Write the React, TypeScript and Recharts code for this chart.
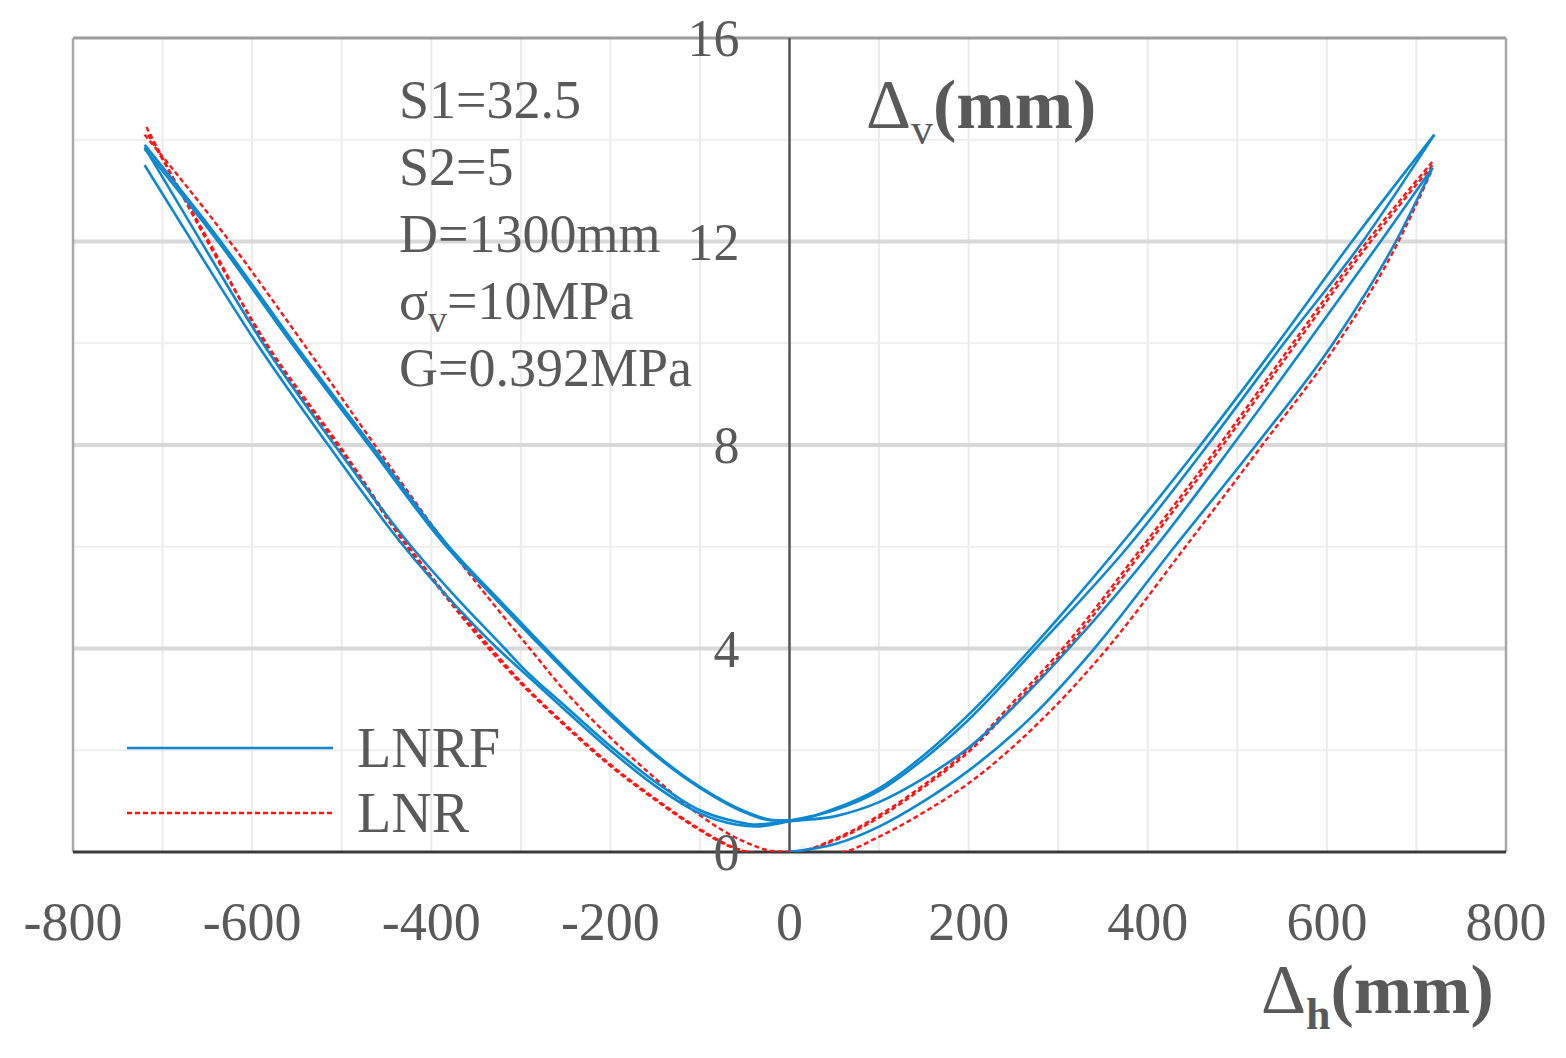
import React from 'react';
import { Line, LineChart, ReferenceDot, ReferenceLine, XAxis, YAxis } from 'recharts';

type Pt = { x: number; y: number };
const pts = (rows: number[][]): Pt[] => rows.map(([x, y]) => ({ x, y }));

const FONT = '"Liberation Serif", "Times New Roman", serif';
const TEXT = '#595959';
const BLUE = '#0c88d0';
const RED = '#ff1414';

// axes
const xTicks = [-800, -600, -400, -200, 0, 200, 400, 600, 800];
const yTicks = [0, 4, 8, 12, 16];
const xGrid = [-700, -600, -500, -400, -300, -200, -100, 100, 200, 300, 400, 500, 600, 700];
const yMinor = [2, 6, 10, 14];
const yMajor = [4, 8, 12];

// LNRF (blue): each branch runs tip to tip
const lnrfFirst = pts([
  [0, 0], [50, 0.15], [100, 0.5], [150, 1.0], [200, 1.6], [270, 2.65], [338, 3.95],
  [430, 6], [521, 8], [607, 10], [677, 12], [718, 13.45],
]);
const lnrfCycle1 = pts([
  [-720, 13.5], [-660, 11.8], [-595, 10], [-515, 8], [-428, 5.95], [-380, 4.98],
  [-326, 4], [-300, 3.58], [-250, 2.78], [-200, 2.0], [-150, 1.3], [-100, 0.76],
  [-60, 0.54], [-37, 0.5], [0, 0.6], [50, 0.7], [100, 0.98], [150, 1.45], [200, 2.05],
  [250, 2.85], [312, 4], [409, 6], [495, 8], [578, 10], [660, 12], [718, 13.45],
]);
const lnrfCycle2 = pts([
  [-720, 13.9], [-635, 12], [-553, 10], [-467, 8], [-380, 6], [-325, 4.97], [-275, 4.05],
  [-250, 3.6], [-200, 2.73], [-150, 1.93], [-100, 1.28], [-50, 0.8], [-19, 0.63],
  [0, 0.62], [50, 0.85], [100, 1.25], [150, 1.9], [200, 2.7], [270, 4], [320, 5.0],
  [368, 6], [459, 8], [545, 10], [628, 12], [720, 14.1],
]);
const lnrfCycle3 = pts([
  [-720, 13.85], [-652, 11.85], [-588, 10], [-508, 8], [-422, 6], [-372, 5], [-318, 4],
  [-300, 3.66], [-250, 2.86], [-200, 2.08], [-150, 1.38], [-100, 0.82], [-60, 0.6],
  [-37, 0.54], [0, 0.62], [50, 0.82], [100, 1.2], [150, 1.83], [200, 2.6], [275, 4],
  [378, 6], [467, 8], [552, 10], [640, 12], [720, 14.1],
]);
const lnrfLast = pts([
  [-720, 13.82], [-638, 12], [-556, 10], [-470, 8], [-383, 6], [-328, 4.97], [-278, 4.05],
  [-250, 3.55], [-200, 2.68], [-150, 1.9], [-100, 1.26], [-50, 0.78], [-19, 0.62],
  [0, 0.62],
]);

// LNR (red dashed)
const lnrCycle1 = pts([
  [-718, 14.25], [-650, 12], [-584, 10], [-503, 8], [-425, 6], [-390, 5.2], [-333, 4],
  [-300, 3.35], [-250, 2.5], [-200, 1.72], [-150, 1.05], [-100, 0.45], [-56, 0.05],
  [-30, -0.03], [0, -0.02], [50, 0.25], [100, 0.72], [150, 1.32], [200, 2.02],
  [250, 2.95], [305, 4], [394, 6], [480, 8], [562, 10], [645, 12], [718, 13.57],
]);
const lnrCycle2 = pts([
  [-720, 14.1], [-625, 12], [-543, 10], [-463, 8], [-381, 6], [-335, 4.97], [-290, 4.0],
  [-250, 3.15], [-200, 2.25], [-150, 1.45], [-100, 0.72], [-50, 0.2], [-19, 0.02],
  [0, 0], [30, -0.05], [60, 0], [100, 0.3], [150, 0.78], [200, 1.35], [270, 2.4],
  [350, 3.9], [440, 5.95], [528, 8], [612, 10], [680, 12], [716, 13.35],
]);
const lnrCycle3 = pts([
  [-716, 14.1], [-648, 12], [-586, 10], [-505, 8], [-427, 6], [-392, 5.2], [-336, 4],
  [-302, 3.35], [-252, 2.5], [-202, 1.72], [-152, 1.05], [-102, 0.45], [-58, 0.05],
  [-30, -0.04], [0, -0.02], [52, 0.24], [102, 0.7], [152, 1.3], [202, 2.0],
  [254, 2.95], [309, 4], [398, 6], [484, 8], [566, 10], [649, 12], [718, 13.5],
]);

const blueSeries = [lnrfFirst, lnrfCycle1, lnrfCycle2, lnrfCycle3, lnrfLast];
const redSeries = [lnrCycle1, lnrCycle2, lnrCycle3];

const paramLines: Array<[string, string, string]> = [
  ['S1=32.5', '', ''],
  ['S2=5', '', ''],
  ['D=1300mm', '', ''],
  ['σ', 'v', '=10MPa'],
  ['G=0.392MPa', '', ''],
];

const XTick = (props: any) => {
  const { x, y, payload } = props;
  return (
    <text x={x} y={y + 88} textAnchor="middle" fontSize={54} fontFamily={FONT} fill={TEXT}>
      {payload.value}
    </text>
  );
};

const yLabel = (value: number) => (props: any) => {
  const vb = props.viewBox || {};
  const cx = (vb.x ?? 0) + (vb.width ?? 0) / 2;
  const cy = (vb.y ?? 0) + (vb.height ?? 0) / 2;
  return (
    <text x={cx - 50} y={cy + 18} textAnchor="end" fontSize={52} fontFamily={FONT} fill={TEXT}>
      {value}
    </text>
  );
};

const W = 1558;
const H = 1050;

const App: React.FC = () => (
  <div style={{ position: 'relative', width: W, height: H, background: '#fff' }}>
    <LineChart width={W} height={H} margin={{ top: 30, right: 60, bottom: 106, left: 65 }}>
      <XAxis
        type="number"
        dataKey="x"
        domain={[-800, 800]}
        ticks={xTicks}
        interval={0}
        axisLine={false}
        tickLine={false}
        tickSize={0}
        tickMargin={0}
        height={100}
        tick={<XTick />}
        allowDataOverflow
      />
      <YAxis type="number" domain={[0, 16]} ticks={yTicks} hide allowDataOverflow />
      {xGrid.map((v) => (
        <ReferenceLine key={`gx-${v}`} x={v} stroke="#ebebeb" strokeWidth={2} />
      ))}
      {yMinor.map((v) => (
        <ReferenceLine key={`gy-${v}`} y={v} stroke="#eeeeee" strokeWidth={2} />
      ))}
      {yMajor.map((v) => (
        <ReferenceLine key={`gY-${v}`} y={v} stroke="#d8d8d8" strokeWidth={4} />
      ))}
      <ReferenceLine y={16} stroke="#9c9c9c" strokeWidth={3} />
      <ReferenceLine x={-800} stroke="#a8a8a8" strokeWidth={2.5} />
      <ReferenceLine x={800} stroke="#a8a8a8" strokeWidth={2.5} />
      <ReferenceLine y={0} stroke="#3a3a3a" strokeWidth={3} />
      <ReferenceLine x={0} stroke="#555555" strokeWidth={2.5} />
      {redSeries.map((d, i) => (
        <Line
          key={`lnr-${i}`}
          data={d}
          dataKey="y"
          type="monotone"
          stroke={RED}
          strokeWidth={2.4}
          strokeDasharray="5 3"
          dot={false}
          activeDot={false}
          isAnimationActive={false}
        />
      ))}
      {blueSeries.map((d, i) => (
        <Line
          key={`lnrf-${i}`}
          data={d}
          dataKey="y"
          type="monotone"
          stroke={BLUE}
          strokeWidth={2.6}
          dot={false}
          activeDot={false}
          isAnimationActive={false}
        />
      ))}
      {yTicks.map((v) => (
        <ReferenceDot key={`yt-${v}`} x={0} y={v} r={1} fill="none" stroke="none" label={yLabel(v)} />
      ))}
    </LineChart>
    <svg
      width={W}
      height={H}
      style={{ position: 'absolute', left: 0, top: 0, pointerEvents: 'none' }}
      fontFamily={FONT}
    >
      {paramLines.map(([main, sub, rest], i) => (
        <text key={main} x={391} y={110 + i * 67} fontSize={54} fill={TEXT}>
          {main}
          {sub ? (
            <>
              <tspan dy={13} fontSize={38}>{sub}</tspan>
              <tspan dy={-13}>{rest}</tspan>
            </>
          ) : null}
        </text>
      ))}
      <text x={858} y={120} fontSize={70} fill={TEXT}>
        Δ<tspan dy={16} fontSize={44}>v</tspan>
        <tspan dy={-16} fontWeight="bold">(mm)</tspan>
      </text>
      <text x={1253} y={1005} fontSize={70} fill={TEXT}>
        Δ<tspan dy={16} fontSize={44} fontWeight="bold">h</tspan>
        <tspan dy={-16} fontWeight="bold">(mm)</tspan>
      </text>
      <line x1={119} x2={325} y1={740} y2={740} stroke={BLUE} strokeWidth={2.6} />
      <text x={349} y={759} fontSize={56} fill={TEXT}>LNRF</text>
      <line x1={119} x2={325} y1={805} y2={805} stroke={RED} strokeWidth={2.4} strokeDasharray="5 3" />
      <text x={349} y={824} fontSize={56} fill={TEXT}>LNR</text>
    </svg>
  </div>
);

export default App;
